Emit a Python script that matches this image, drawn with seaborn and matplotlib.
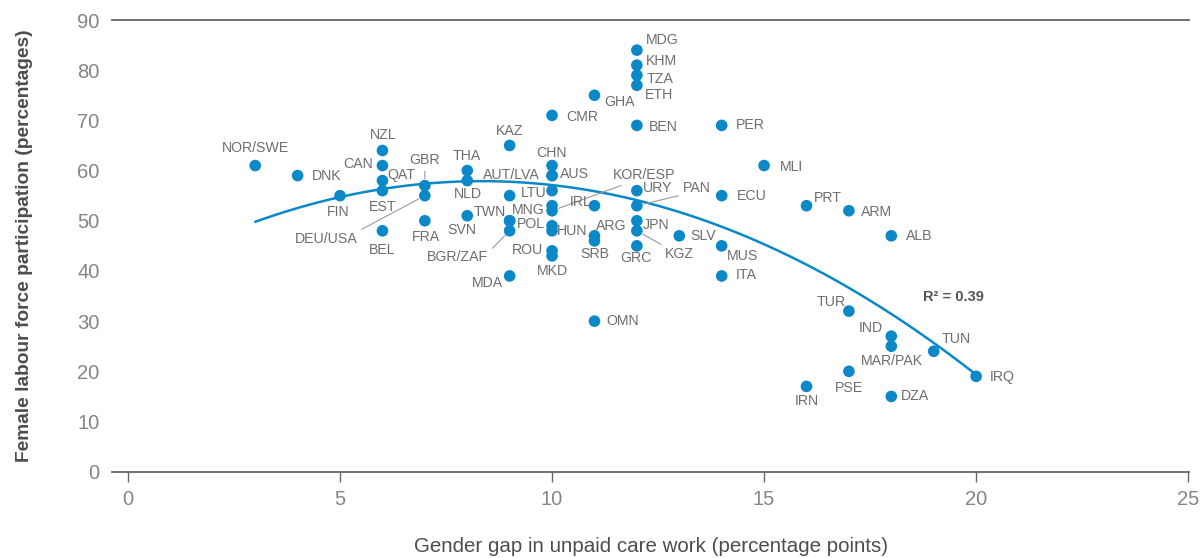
import matplotlib
matplotlib.use("Agg")
import matplotlib.pyplot as plt
import seaborn as sns
import pandas as pd

# ---- data ----
countries = ["NOR/SWE", "DNK", "FIN", "NZL", "CAN", "QAT", "EST", "BEL", "GBR", "DEU/USA",
             "FRA", "THA", "NLD", "SVN", "KAZ", "LTU", "TWN", "POL", "BGR/ZAF", "MDA",
             "CMR", "CHN", "AUS", "AUT/LVA", "", "MNG", "KOR/ESP", "", "HUN", "ROU",
             "MKD", "GHA", "IRL", "ARG", "SRB", "OMN", "MDG", "KHM", "TZA", "ETH",
             "BEN", "URY", "PAN", "JPN", "KGZ", "GRC", "SLV", "PER", "ECU", "MUS",
             "ITA", "MLI", "PRT", "IRN", "ARM", "TUR", "PSE", "ALB", "IND", "MAR/PAK",
             "DZA", "TUN", "IRQ"]
care_gap = [3, 4, 5, 6, 6, 6, 6, 6, 7, 7,
            7, 8, 8, 8, 9, 9, 9, 9, 9, 9,
            10, 10, 10, 10, 10, 10, 10, 10, 10, 10,
            10, 11, 11, 11, 11, 11, 12, 12, 12, 12,
            12, 12, 12, 12, 12, 12, 13, 14, 14, 14,
            14, 15, 16, 16, 17, 17, 17, 18, 18, 18,
            18, 19, 20]
female_lfp = [61, 59, 55, 64, 61, 58, 56, 48, 57, 55,
              50, 60, 58, 51, 65, 55, 50, 50, 48, 39,
              71, 61, 59, 59, 56, 53, 52, 49, 48, 44,
              43, 75, 53, 47, 46, 30, 84, 81, 79, 77,
              69, 56, 53, 50, 48, 45, 47, 69, 55, 45,
              39, 61, 53, 17, 52, 32, 20, 47, 27, 25,
              15, 24, 19]
x_ticks = [0, 5, 10, 15, 20, 25]
y_ticks = [0, 10, 20, 30, 40, 50, 60, 70, 80, 90]
r2_text = "R² = 0.39"

# ---- label layout (pixel offsets from the point; separate from data) ----
label_offsets = {
    "NOR/SWE": (0, 18), "DNK": (29, 0), "FIN": (-2, -16), "NZL": (1, 15),
    "CAN": (-24, 2), "QAT": (19, 6), "EST": (0, -16), "BEL": (0, -19),
    "GBR": (0, 26), "DEU/USA": (-99, -43), "FRA": (1, -16), "THA": (0, 15),
    "NLD": (1, -13), "SVN": (-5, -14), "KAZ": (0, 14), "LTU": (24, 3),
    "TWN": (-20, 9), "POL": (21, -3), "BGR/ZAF": (-52, -26), "MDA": (-22, -7),
    "CMR": (30, -2), "CHN": (-1, 13), "AUS": (22, 2), "AUT/LVA": (-41, 1),
    "MNG": (-24, -4), "KOR/ESP": (92, 36), "HUN": (20, 0), "ROU": (-25, 1),
    "MKD": (0, -15), "GHA": (25, -7), "IRL": (-14, 4), "ARG": (17, 10),
    "SRB": (0, -13), "OMN": (28, 0), "MDG": (25, 10), "KHM": (25, 4),
    "TZA": (23, -4), "ETH": (22, -10), "BEN": (26, -2), "URY": (21, 3),
    "PAN": (60, 18), "JPN": (19, -4), "KGZ": (43, -23), "GRC": (-1, -12),
    "SLV": (24, 0), "PER": (29, 0), "ECU": (30, 0), "MUS": (21, -10),
    "ITA": (25, 1), "MLI": (27, -1), "PRT": (21, 8), "IRN": (0, -15),
    "ARM": (28, -1), "TUR": (-18, 9), "PSE": (0, -17), "ALB": (28, 0),
    "IND": (-20, 8), "MAR/PAK": (1, -15), "DZA": (24, 0), "TUN": (22, 12),
    "IRQ": (26, -1),
}
# leader lines: relpos on the text box where the line starts
leaders = {"GBR": (0.5, 0.0), "DEU/USA": (1.0, 1.0), "BGR/ZAF": (1.0, 0.8),
           "KOR/ESP": (0.3, 0.0), "PAN": (0.0, 0.0), "KGZ": (0.0, 1.0)}

BLUE = "#0a88c8"
LABEL_GREY = "#6e6e6e"

df = pd.DataFrame({"country": countries, "gap": care_gap, "lfp": female_lfp})

sns.set_theme(style="white")
plt.rcParams["font.family"] = ["Liberation Sans", "DejaVu Sans"]

fig = plt.figure(figsize=(12.03, 5.58), dpi=100)
ax = fig.add_axes([112 / 1203, 1 - 471.7 / 558, (1189 - 112) / 1203, (471.7 - 20) / 558])

sns.regplot(data=df, x="gap", y="lfp", order=2, ci=None, scatter=False, truncate=True,
            line_kws={"color": BLUE, "lw": 1.8, "zorder": 2}, ax=ax)
sns.scatterplot(data=df, x="gap", y="lfp", color=BLUE, s=70, edgecolor="none",
                zorder=3, ax=ax, legend=False)

for name, gx, fy in zip(countries, care_gap, female_lfp):
    if not name:
        continue
    dx, dy = label_offsets.get(name, (20, 0))
    kw = dict(xy=(gx, fy), xytext=(dx, dy), textcoords="offset pixels",
              ha="center", va="center", fontsize=10.2, color=LABEL_GREY, zorder=4)
    if name in leaders:
        kw["arrowprops"] = dict(arrowstyle="-", color="#9a9a9a", lw=0.8,
                                relpos=leaders[name], shrinkA=1, shrinkB=5)
    ax.annotate(name, **kw)

ax.text(953 / 1203, 1 - 297 / 558, r2_text, transform=fig.transFigure,
        ha="center", va="center", fontsize=10.5, fontweight="bold", color="#555555")

ax.set_xlim(-0.377, 25.02)
ax.set_ylim(0, 90)
ax.set_xticks(x_ticks)
ax.set_yticks(y_ticks)
ax.set_xticklabels([str(v) for v in x_ticks])
ax.set_yticklabels([str(v) for v in y_ticks])

for side in ["left", "right"]:
    ax.spines[side].set_visible(False)
for side in ["top", "bottom"]:
    ax.spines[side].set_visible(True)
    ax.spines[side].set_color("#666666")
    ax.spines[side].set_linewidth(1.3)

ax.tick_params(axis="x", which="both", bottom=True, length=7, width=1.0, color="#666666",
               labelsize=14.5, labelcolor="#858585", pad=6)
ax.tick_params(axis="y", which="both", left=False, length=0, labelsize=14.5,
               labelcolor="#858585", pad=9)
ax.grid(False)

ax.set_xlabel("Gender gap in unpaid care work (percentage points)", fontsize=14.8,
              color="#4d4d4d", labelpad=20)
ax.set_ylabel("Female labour force participation (percentages)", fontsize=13.8,
              color="#4d4d4d", fontweight="bold", labelpad=32)

fig.savefig("out.png", dpi=100, facecolor="white")
